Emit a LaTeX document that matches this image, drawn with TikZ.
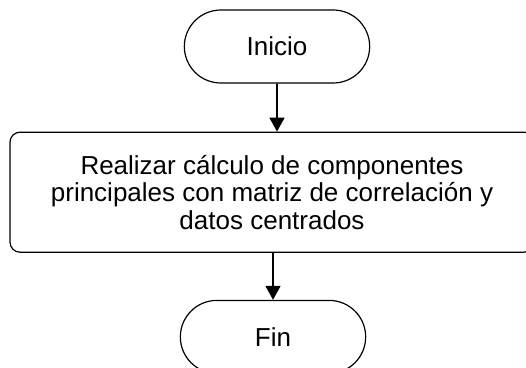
\documentclass[tikz,border=0pt]{standalone}
\usepackage{fontspec}
\setmainfont{Liberation Sans}
\usetikzlibrary{shapes.misc, arrows.meta, positioning}

\begin{document}
\begin{tikzpicture}[node distance=47pt, font=\fontsize{26}{27.5}\selectfont]
        % Define block styles
        \tikzstyle{terminal} = [rounded rectangle, draw, line width=1.2pt, minimum width=192pt, minimum height=73pt, text centered]
        \tikzstyle{process} = [rectangle, draw, line width=1.2pt, rounded corners=10pt, minimum width=524pt, minimum height=120pt, align=center]
        \tikzstyle{line} = [draw, line width=1.8pt, -{Triangle[width=15pt, length=14pt]}]

        \useasboundingbox (0,0) rectangle (526pt,-367pt);

        % Define nodes
        \node [terminal] (ini) at (277pt,-46.5pt) {Inicio};
        \node [process, below=48pt of ini, xshift=-5pt] (calc) {Realizar cálculo de componentes\\principales con matriz de correlación y\\datos centrados};
        \node [terminal, below=of calc, xshift=1pt] (fin) {Fin};

        % Connect nodes with paths
        \draw[line] (ini) -- (ini |- calc.north);
        \draw[line] (calc.south -| fin) -- (fin);

    \end{tikzpicture}
\end{document}
